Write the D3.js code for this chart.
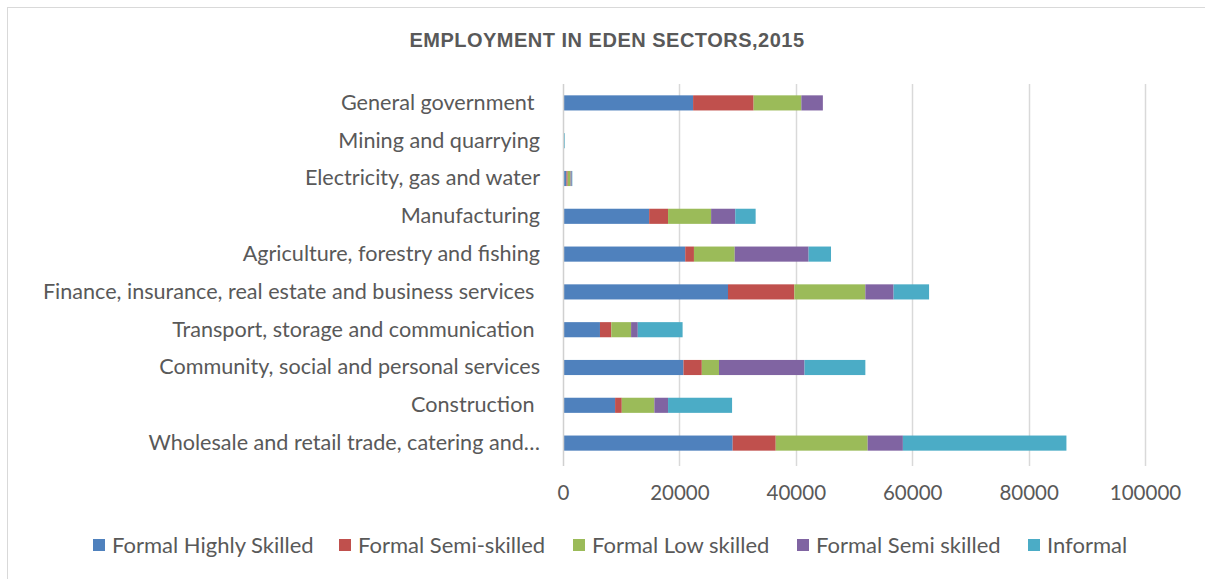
<!DOCTYPE html>
<html>
<head>
<meta charset="utf-8">
<script src="https://cdn.jsdelivr.net/npm/d3@7"></script>
<style>
  html, body { margin: 0; padding: 0; background: #fff; }
  svg { display: block; }
  text { white-space: pre; }
</style>
</head>
<body>
<svg id="chart" width="1205" height="579"></svg>
<script>
// ---- data (top to bottom as drawn) ----
const categories = [
  "General government ",
  "Mining and quarrying",
  "Electricity, gas and water",
  "Manufacturing",
  "Agriculture, forestry and fishing",
  "Finance, insurance, real estate and business services ",
  "Transport, storage and communication ",
  "Community, social and personal services",
  "Construction ",
  "Wholesale and retail trade, catering and…"
];
const seriesNames = ["Formal Highly Skilled", "Formal Semi-skilled", "Formal Low skilled", "Formal Semi skilled", "Informal"];
const formalHighlySkilled = [22350, 150, 600, 14800, 21000, 28350, 6350, 20700, 8950, 29150];
const formalSemiSkilledA  = [10400,   0, 200,  3250,  1500, 11400, 1950,  3150, 1150,  7400];
const formalLowSkilled    = [ 8200,   0, 500,  7400,  7000, 12200, 3400,  2950, 5600, 15800];
const formalSemiSkilledB  = [ 3700,   0, 200,  4150, 12700,  4850, 1150, 14700, 2350,  6050];
const informal            = [    0, 150, 100,  3500,  3850,  6100, 7700, 10450, 11000, 28100];
const xTicks = [0, 20000, 40000, 60000, 80000, 100000];
const colors = ["#4F81BD", "#C0504D", "#9BBB59", "#8064A2", "#4BACC6"];
const title = "EMPLOYMENT IN EDEN SECTORS,2015";

const seriesValues = [formalHighlySkilled, formalSemiSkilledA, formalLowSkilled, formalSemiSkilledB, informal];
const rows = categories.map((c, i) => {
  const r = { cat: c };
  seriesNames.forEach((s, j) => r["s" + j] = seriesValues[j][i]);
  return r;
});
const keys = seriesNames.map((s, j) => "s" + j);
const stacked = d3.stack().keys(keys)(rows);

const svg = d3.select("#chart");
const font = "Lato, 'Open Sans', sans-serif";

svg.append("rect").attr("x", 0).attr("y", 0).attr("width", 1205).attr("height", 579).attr("fill", "#fff");
svg.append("rect").attr("x", 7.5).attr("y", 7.5).attr("width", 1220).attr("height", 590)
  .attr("fill", "none").attr("stroke", "#d9d9d9").attr("stroke-width", 1);

const x = d3.scaleLinear().domain([0, 100000]).range([563, 1145]);
const y = d3.scaleBand().domain(categories).range([84, 462]).paddingInner(0.6).paddingOuter(0.3);

// gridlines
svg.append("g").selectAll("line").data(xTicks.slice(1)).join("line")
  .attr("x1", d => Math.round(x(d)) + 0.5).attr("x2", d => Math.round(x(d)) + 0.5)
  .attr("y1", 84).attr("y2", 466)
  .attr("stroke", "#d9d9d9").attr("stroke-width", 1.5);

// bars
svg.append("g").selectAll("g").data(stacked).join("g")
  .attr("fill", (d, i) => colors[i])
  .selectAll("rect").data(d => d).join("rect")
  .attr("x", d => x(d[0]))
  .attr("y", d => y(d.data.cat))
  .attr("width", d => Math.max(0, x(d[1]) - x(d[0])))
  .attr("height", y.bandwidth());

// category axis line
svg.append("line").attr("x1", 563.5).attr("x2", 563.5).attr("y1", 84).attr("y2", 466)
  .attr("stroke", "#d0d0d0").attr("stroke-width", 1.5);

// x tick labels
const xAxis = d3.axisBottom(x).tickValues(xTicks).tickFormat(d3.format("d")).tickSize(0).tickPadding(0);
const gx = svg.append("g").attr("transform", "translate(0,483)").call(xAxis);
gx.select(".domain").remove();
gx.selectAll("text").attr("font-family", font).attr("font-size", 20.5).attr("fill", "#595959").attr("dy", "0.35em").attr("y", 10);

// category labels
const yAxis = d3.axisLeft(y).tickSize(0).tickPadding(0);
const gy = svg.append("g").attr("transform", "translate(540,0)").call(yAxis);
gy.select(".domain").remove();
gy.selectAll("text").attr("font-family", font).attr("font-size", 21.6).attr("fill", "#595959");

// title
svg.append("text").attr("x", 607).attr("y", 40).attr("dy", "0.35em").attr("text-anchor", "middle")
  .attr("font-family", "'Liberation Sans', Arial, sans-serif").attr("font-weight", "bold")
  .attr("font-size", 20).attr("letter-spacing", 0.5).attr("fill", "#595959").text(title);

// legend
const legendX = [93, 339, 573, 797, 1028];
const lg = svg.append("g").selectAll("g").data(seriesNames).join("g")
  .attr("transform", (d, i) => `translate(${legendX[i]},545)`);
lg.append("rect").attr("x", 0).attr("y", -6).attr("width", 12).attr("height", 12).attr("fill", (d, i) => colors[i]);
lg.append("text").attr("x", 19).attr("dy", "0.35em").attr("font-family", font).attr("font-size", 22)
  .attr("fill", "#595959").text(d => d);
</script>
</body>
</html>
